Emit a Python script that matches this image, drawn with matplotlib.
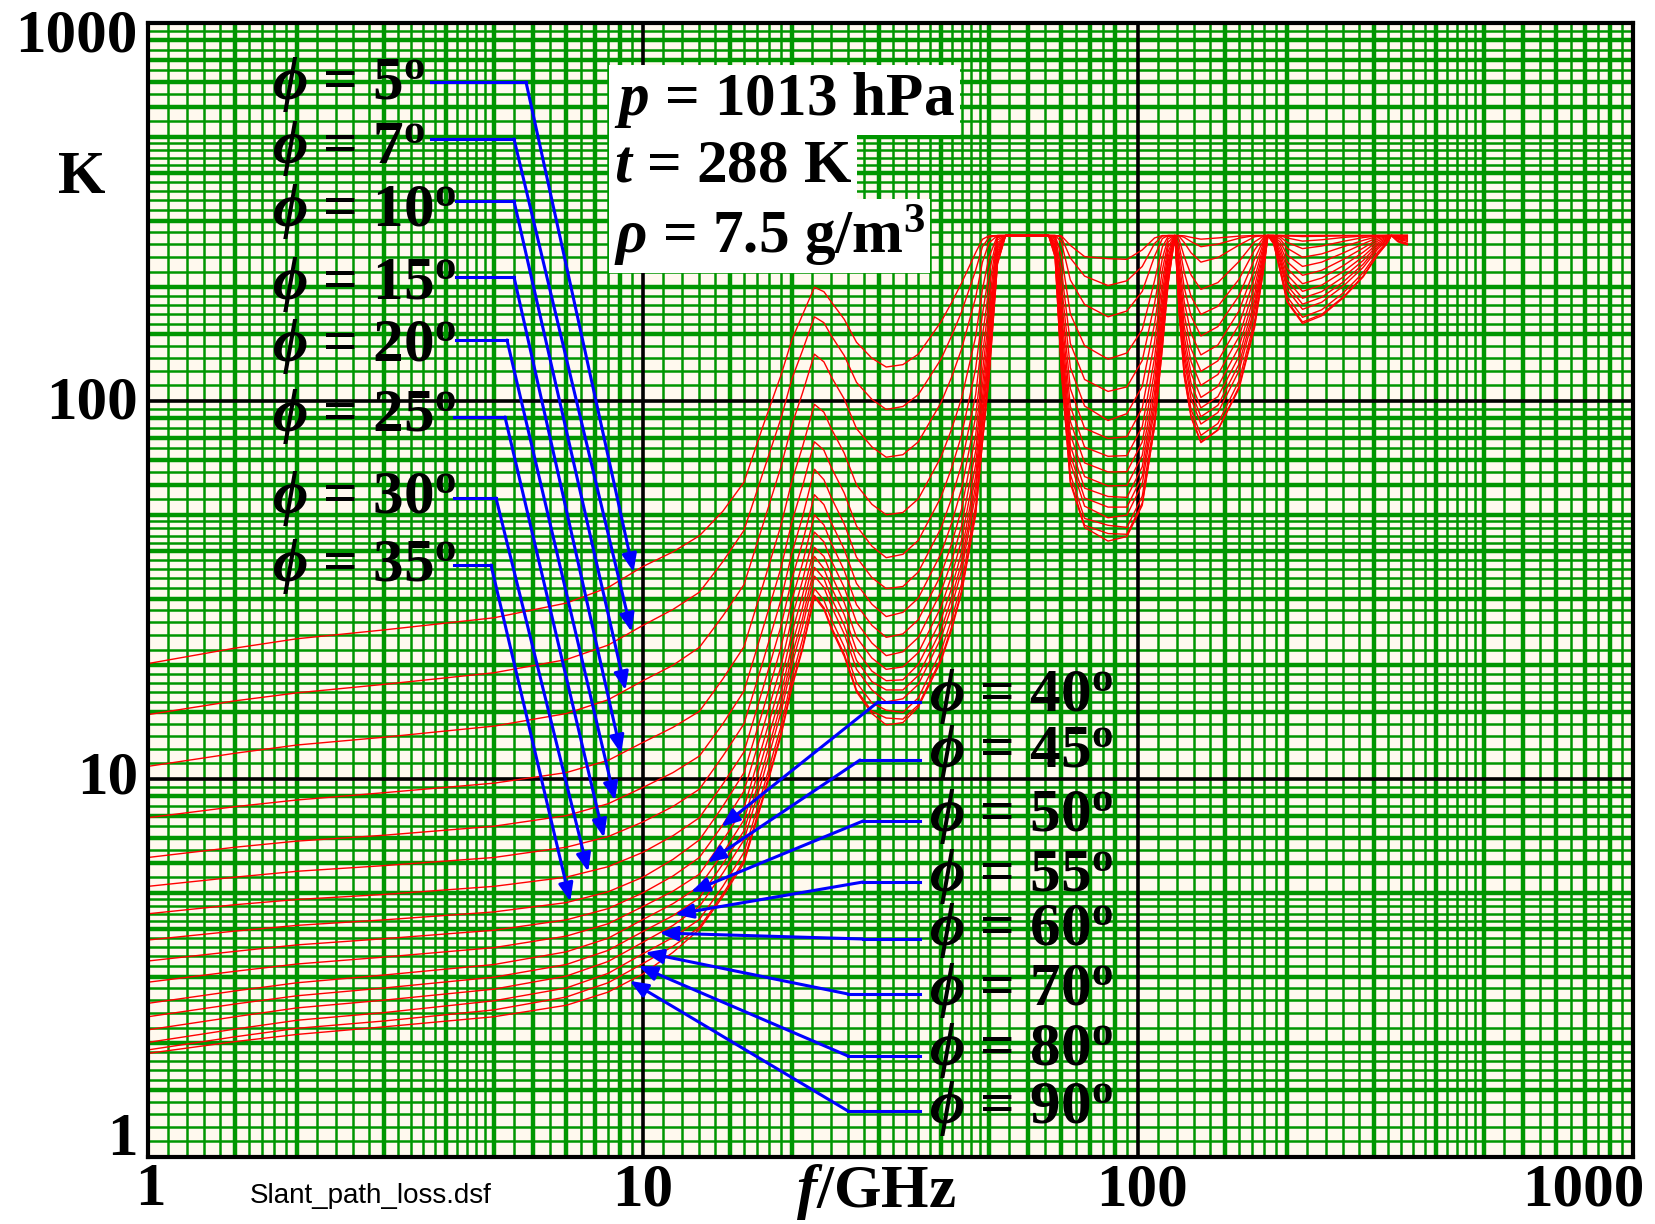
import numpy as np
import matplotlib
matplotlib.use("Agg")
import matplotlib.pyplot as plt
from matplotlib import font_manager

plt.rcParams['mathtext.fontset'] = 'custom'
plt.rcParams['mathtext.rm'] = 'Liberation Serif:bold'
plt.rcParams['mathtext.it'] = 'Liberation Serif:italic:bold'
plt.rcParams['mathtext.bf'] = 'Liberation Serif:bold'
plt.rcParams['mathtext.fallback'] = 'stix'

# ---------------- data ----------------
freq_ghz = [1, 1.5, 2, 3, 5, 7, 8.5, 10, 11.5,
            13, 14.5, 16, 17.5, 19, 20, 21, 22.2, 23.2, 24, 25.5, 27, 29, 31, 33.5,
            36, 40, 42, 44, 47, 48.5, 50, 52, 54,
            60, 66, 68, 70, 73, 78, 87,
            95, 102, 108, 112, 115, 118.75,
            121, 124, 128, 134, 145, 160,
            172, 180, 183, 188, 194, 200,
            215, 235, 260, 285, 305, 318,
            325, 335, 350]

elevations = [5, 7, 10, 15, 20, 25, 30, 35, 40, 45, 50, 55, 60, 70, 80, 90]

T_05 = [20.2, 22.2, 23.5, 24.8, 26.7, 29.2, 32.1, 36.5, 39.9,
        44, 51.1, 61, 86.3, 117, 145.5, 169, 200, 194.6, 183, 164.5, 143, 129.8, 123, 124.8,
        133, 162, 181.9, 205, 247, 267.8, 273.5, 274, 274,
        274, 274, 274, 273.6, 258, 241, 238,
        237, 251, 270, 274, 274, 274,
        274, 273.5, 271, 268, 270, 273,
        274, 274, 274, 274, 274, 274,
        274, 274, 274, 274, 274, 274,
        274, 274, 274]
T_07 = [14.8, 16.1, 16.9, 17.8, 19.1, 20.7, 22.6, 25.5, 28.1,
        31.2, 37.6, 45.5, 65.0, 90, 114.6, 136, 167, 161.1, 149, 131.9, 112, 101.0, 95, 96.7,
        104, 129, 148.4, 172, 222, 255.8, 271, 274, 274,
        274, 274, 274, 271.6, 239, 214, 202,
        208, 227, 261, 273, 274, 274,
        274, 271, 264, 256, 260, 269.5,
        274, 274, 274, 274, 274, 274,
        273.8, 274, 274, 274, 274, 274,
        274, 274, 274]
T_10 = [10.8, 11.7, 12.3, 12.9, 13.8, 14.9, 16.2, 18.2, 20.0,
        22.3, 27.0, 32.7, 47.4, 67, 86.6, 105, 133, 126.9, 116, 101.2, 84.5, 75.6, 71, 72.1,
        78, 99, 115.5, 137, 188, 233.1, 262, 274, 274,
        274, 274, 274, 264, 209, 180, 167,
        173, 195, 241.5, 269, 274, 274,
        273, 262.5, 246.6, 233, 239.6, 258.6,
        272, 274, 274, 274, 274, 273.5,
        272.3, 272.8, 273.6, 274, 274, 274,
        274, 274, 274]
T_15 = [7.9, 8.45, 8.8, 9.2, 9.75, 10.4, 11.2, 12.5, 13.7,
        15.1, 18.4, 22.4, 32.8, 46.9, 61.6, 75.6, 98, 93.4, 84.6, 72.8, 60, 53.3, 50, 50.7,
        55.1, 71.1, 84.1, 101.5, 148, 197.4, 240, 273.7, 274,
        274, 274, 274, 244, 170, 140, 129,
        134, 154.5, 208, 255.6, 272.5, 274,
        268, 241, 215.5, 197.4, 205.7, 234,
        263.7, 274, 274, 274, 273.4, 270,
        264.8, 267, 270.8, 273.2, 274, 274,
        274, 274, 274]
T_20 = [6.2, 6.6, 6.85, 7.1, 7.5, 8.0, 8.6, 9.5, 10.4,
        11.5, 14.0, 17.1, 25.2, 36.2, 48.0, 59.4, 78, 74.1, 66.8, 57.1, 46.7, 41.3, 38.5, 39.3,
        42.8, 55.7, 66.4, 81, 122, 169.5, 218, 272.6, 274,
        274, 274, 273.4, 223, 142, 114, 106,
        109, 128, 181, 238.5, 268.7, 274,
        259, 219, 189, 169.5, 178, 210,
        251, 272.6, 274, 274, 271.4, 263,
        253, 257, 264.5, 270.6, 273.5, 274,
        274, 274, 274]
T_25 = [5.2, 5.5, 5.7, 5.9, 6.2, 6.6, 7.04, 7.7, 8.46,
        9.4, 11.5, 14.0, 20.6, 29.8, 39.7, 49.3, 66, 61.9, 55.6, 47.3, 38.6, 34.1, 31.9, 32.3,
        35.3, 46.1, 55.2, 67.8, 104, 148.6, 198.5, 270.3, 274,
        274, 274, 272, 204, 122.5, 97, 88.8,
        92.6, 109.4, 160, 222, 263, 274,
        248.4, 199.6, 167.8, 148.6, 157.3, 190,
        237.4, 270, 274, 274, 267.8, 253.8,
        240, 245, 256, 266, 272.5, 274,
        274, 274, 274]
T_30 = [4.4, 4.65, 4.8, 4.95, 5.2, 5.5, 5.86, 6.4, 7.08,
        7.9, 9.7, 11.8, 17.5, 25.4, 33.9, 42.2, 56.5, 53.2, 47.7, 40.5, 32.9, 29.0, 26.9, 27.6,
        30.1, 39.5, 47.4, 58.5, 91, 132.4, 181.7, 266.7, 274,
        274, 274, 270, 187.6, 107.8, 84.7, 79.6,
        80.5, 95.8, 143.3, 206.4, 255.6, 274,
        237, 182.8, 151, 132.4, 140.6, 173.2,
        224, 266.5, 274, 273.3, 262.8, 243.6,
        227, 233, 246.5, 260.4, 270.6, 273.3,
        274, 274, 273.2]
T_35 = [3.75, 3.96, 4.1, 4.24, 4.45, 4.71, 5.03, 5.5, 6.13,
        6.9, 8.47, 10.4, 15.3, 22.3, 29.8, 37.2, 50, 47.0, 42.1, 35.6, 28.9, 25.5, 23.7, 24.2,
        26.4, 34.7, 41.8, 51.7, 81.2, 119.8, 167.8, 262, 274,
        274, 274, 267, 173.8, 96.8, 75.5, 71.4,
        71.7, 85.6, 130, 193, 248, 274,
        226, 169, 137.5, 119.8, 127.7, 159.4,
        211.7, 262, 274, 272.5, 257.2, 233.7,
        215, 221.7, 237, 253.9, 268.1, 272.5,
        274, 273.1, 272.2]
T_40 = [3.3, 3.5, 3.64, 3.78, 3.98, 4.24, 4.54, 5.0, 5.54,
        6.2, 7.57, 9.3, 13.7, 19.9, 26.7, 33.5, 45, 42.4, 37.9, 32.1, 26.0, 22.9, 21.2, 21.7,
        23.7, 31.3, 37.6, 46.7, 73.8, 110, 156.5, 257.8, 274,
        274, 274, 263.6, 162.4, 88.3, 68.6, 64.9,
        65, 77.9, 120, 181.8, 240.4, 274,
        216, 157.5, 127, 110, 117.5, 148,
        201, 257.3, 274, 271.4, 251.3, 224.5,
        204.3, 211.5, 228.2, 247.5, 265.1, 271.4,
        274, 272.4, 271]
T_45 = [2.9, 3.1, 3.24, 3.38, 3.58, 3.84, 4.14, 4.6, 5.05,
        5.6, 6.88, 8.4, 12.5, 18.2, 24.4, 30.6, 41, 38.8, 34.7, 29.3, 23.7, 20.9, 19.5, 19.8,
        21.6, 28.5, 34.4, 42.8, 68, 102.2, 147, 253, 274,
        274, 274, 260, 152.8, 81.6, 63.1, 59.6,
        59.8, 71.8, 111.6, 172.2, 233.4, 274,
        207.4, 148, 118.4, 102.2, 109.3, 139,
        191.6, 252.5, 274, 270.1, 245.5, 216,
        195, 202.5, 220, 241, 261.8, 270.1,
        274, 271.4, 269.3]
T_50 = [2.55, 2.75, 2.89, 3.03, 3.23, 3.49, 3.79, 4.25, 4.68,
        5.2, 6.36, 7.8, 11.6, 16.8, 22.6, 28.4, 38.8, 36.0, 32.2, 27.2, 21.9, 19.3, 18.2, 18.3,
        20.1, 26.4, 31.9, 39.7, 63.4, 95.9, 139.3, 248.5, 274,
        274, 274, 256.3, 145, 76.2, 58.8, 55.9,
        55.6, 67, 105, 164, 227, 274,
        199.7, 140.3, 111.4, 95.9, 102.7, 131.3,
        183.6, 247.8, 274, 268.6, 240, 208.8,
        187, 194.7, 213, 235.3, 258.5, 268.6,
        274, 270.3, 267.8]
T_55 = [2.35, 2.54, 2.67, 2.8, 2.99, 3.23, 3.52, 3.95, 4.35,
        4.85, 5.96, 7.3, 10.8, 15.8, 21.2, 26.6, 36.3, 33.9, 30.2, 25.5, 20.6, 18.1, 17.2, 17.2,
        18.8, 24.8, 30.0, 37.3, 59.8, 90.9, 133, 244, 274,
        274, 274, 253, 138.5, 72, 55.4, 52.4,
        52.4, 63.3, 99.6, 157.4, 221.3, 274,
        193.2, 134, 105.9, 90.9, 97.4, 125.2,
        177, 243.4, 274, 266.9, 235.2, 202.5,
        180.4, 188.1, 206.7, 230.1, 255.3, 266.9,
        274, 269.1, 266.1]
T_60 = [2.17, 2.35, 2.48, 2.6, 2.78, 3.01, 3.29, 3.7, 4.1,
        4.6, 5.64, 6.9, 10.2, 15.0, 20.1, 25.3, 34.4, 32.1, 28.7, 24.2, 19.5, 17.2, 16.0, 16.3,
        17.8, 23.6, 28.5, 35.5, 56.9, 86.9, 127.8, 240.2, 274,
        274, 274, 250, 133.3, 68.7, 52.7, 49.1,
        49.9, 60.3, 95.3, 151.9, 216.4, 274,
        187.7, 128.8, 101.4, 86.9, 93.2, 120.2,
        171.4, 239.7, 274, 265.1, 230.8, 197.1,
        174.8, 182.5, 201.4, 225.6, 252.4, 265.1,
        274, 268.1, 264.3]
T_70 = [2.01, 2.18, 2.3, 2.41, 2.59, 2.8, 3.06, 3.45, 3.81,
        4.25, 5.2, 6.4, 9.45, 13.8, 18.6, 23.4, 31.9, 29.7, 26.5, 22.4, 18.0, 15.9, 15.2, 15.0,
        16.4, 21.8, 26.4, 32.8, 52.9, 81.1, 120.4, 234.4, 274,
        274, 274, 244.7, 125.7, 64, 48.9, 46.9,
        46.3, 56, 89.2, 143.9, 208.8, 274,
        179.5, 121.4, 95, 81.1, 87.2, 113.1,
        163.1, 233.6, 274, 262.6, 224, 188.9,
        166.5, 174.3, 193.4, 218.5, 247.6, 262.6,
        274, 265.8, 261.5]
T_80 = [1.92, 2.08, 2.19, 2.29, 2.45, 2.65, 2.89, 3.25, 3.61,
        4.05, 4.96, 6.1, 9.04, 13.2, 17.8, 22.3, 30.6, 28.4, 25.3, 21.4, 17.2, 15.1, 14.5, 14.4,
        15.7, 20.8, 25.2, 31.4, 50.7, 78, 116.2, 231, 274,
        274, 274, 241.4, 121.5, 61.4, 46.9, 44.6,
        44.4, 53.7, 85.8, 139.4, 204.4, 274,
        174.7, 117.2, 91.4, 78, 83.9, 109.1,
        158.4, 230.2, 274, 261, 220, 184.3,
        161.8, 169.5, 188.7, 214.2, 244.6, 261,
        274, 264.3, 259.7]
T_90 = [1.88, 2.02, 2.11, 2.21, 2.35, 2.52, 2.73, 3.05, 3.48,
        4.0, 4.89, 6.0, 8.9, 13.0, 17.5, 22.0, 30.3, 28.1, 25.0, 21.1, 17.0, 14.9, 13.9, 14.1,
        15.5, 20.5, 24.8, 31.0, 50, 77.6, 115, 230, 274,
        274, 274, 240, 120, 60.6, 46.3, 42.6,
        43.8, 53, 85.6, 138, 203, 274,
        173.2, 116, 90.4, 77.6, 83.7, 107.8,
        156.4, 229.6, 274, 260.4, 218.7, 182.8,
        160.3, 168, 187.5, 212.9, 243.6, 260.4,
        274, 263.9, 258.9]

curves = [T_05, T_07, T_10, T_15, T_20, T_25, T_30, T_35,
          T_40, T_45, T_50, T_55, T_60, T_70, T_80, T_90]
for c in curves:
    assert len(c) == len(freq_ghz), (len(c), len(freq_ghz))

x_tick_labels = ['1', '10', '100', '1000']
y_tick_labels = ['1000', '100', '10', '1']

# frequency (GHz) where each leader arrow touches its curve
left_group = [5, 7, 10, 15, 20, 25, 30, 35]
left_tip_freq = [9.57, 9.48, 9.22, 9.03, 8.78, 8.34, 7.75, 7.13]
right_group = [40, 45, 50, 55, 60, 70, 80, 90]
right_tip_freq = [14.4, 13.5, 12.5, 11.6, 10.8, 10.1, 9.8, 9.4]

# ---------------- layout helpers (pixel -> figure fraction) -------------
W, H = 1655, 1224
def fx(x):
    return x / W
def fy(y):
    return 1 - y / H

SERIF = 'Liberation Serif'
GREEN = '#009600'
BLUE = '#0000FF'

installed = {f.name for f in font_manager.fontManager.ttflist}
if 'Liberation Sans Narrow' in installed:
    NOTE_FONT, NOTE_SIZE = 'Liberation Sans Narrow', 25
else:
    NOTE_FONT, NOTE_SIZE = 'Liberation Sans', 20

fig = plt.figure(figsize=(W / 100, H / 100), dpi=100)
fig.patch.set_facecolor('white')
ax = fig.add_axes([fx(148), fy(1157), (1633 - 148) / W, (1157 - 23) / H])
ax.set_xscale('log')
ax.set_yscale('log')
ax.set_xlim(1, 1000)
ax.set_ylim(1, 1000)
ax.set_facecolor('#FFF9EE')
ax.set_xticks([])
ax.set_xticks([], minor=True)
ax.set_yticks([])
ax.set_yticks([], minor=True)
for sp in ax.spines.values():
    sp.set_linewidth(3)
    sp.set_color('black')
    sp.set_zorder(6)

# ---------------- log-paper grid ----------------
fine = [1.1, 1.2, 1.3, 1.4, 1.6, 1.7, 1.8, 1.9,
        2.2, 2.4, 2.6, 2.8, 3.2, 3.4, 3.6, 3.8, 4.2, 4.4, 4.6, 4.8,
        5.5, 6.5, 7.5, 8.5, 9.5]
bold = [1.5, 2, 3, 4, 5, 6, 7, 8, 9]
for d in [1, 10, 100]:
    for v in fine:
        ax.axvline(d * v, color=GREEN, lw=1.8, zorder=1)
        ax.axhline(d * v, color=GREEN, lw=1.8, zorder=1)
    for v in bold:
        ax.axvline(d * v, color=GREEN, lw=3.2, zorder=1.2)
        ax.axhline(d * v, color=GREEN, lw=3.2, zorder=1.2)
for d in [10, 100]:
    ax.axvline(d, color='black', lw=2.6, zorder=1.5)
    ax.axhline(d, color='black', lw=2.6, zorder=1.5)

# ---------------- curves ----------------
for T in curves:
    ax.plot(freq_ghz, T, color='red', lw=1.0, zorder=3)

def curve_at(phi, f):
    T = curves[elevations.index(phi)]
    return 10 ** np.interp(np.log10(f), np.log10(freq_ghz), np.log10(T))

# ---------------- labels and leaders ----------------
def phi_label(phi):
    return r'$\phi$ = ' + str(phi) + r'$^{\mathrm{o}}$'

left_text_y = [84, 149, 211, 284, 347, 417, 498, 567]
left_line_y = [82, 139, 201, 277, 340, 417, 498, 565]
left_line_x0 = [431, 431, 456, 456, 456, 454, 454, 454]
left_kink_x = [526, 514, 514, 514, 507, 505, 496, 491]

right_text_y = [697, 752, 816, 876, 931, 990, 1050, 1108]
right_line_y = [702, 760, 821, 882, 939, 994, 1056, 1111]
right_kink_x = [878, 860, 863, 863, 863, 848, 848, 848]

arrow_props = dict(arrowstyle='-|>,head_length=0.55,head_width=0.22',
                   color=BLUE, lw=2.2, mutation_scale=20,
                   shrinkA=0, shrinkB=0)

for i, phi in enumerate(left_group):
    fig.text(fx(272), fy(left_text_y[i]), phi_label(phi), fontsize=44,
             family=SERIF, weight='bold', va='center', ha='left', zorder=7)
    ax.plot([fx(left_line_x0[i]), fx(left_kink_x[i])],
            [fy(left_line_y[i]), fy(left_line_y[i])],
            transform=fig.transFigure, color=BLUE, lw=2.2, zorder=4)
    f = left_tip_freq[i]
    ax.annotate('', xy=(f, curve_at(phi, f)), xycoords='data',
                xytext=(fx(left_kink_x[i]), fy(left_line_y[i])),
                textcoords='figure fraction', arrowprops=arrow_props, zorder=4)

for i, phi in enumerate(right_group):
    fig.text(fx(929), fy(right_text_y[i]), phi_label(phi), fontsize=44,
             family=SERIF, weight='bold', va='center', ha='left', zorder=7)
    ax.plot([fx(920), fx(right_kink_x[i])],
            [fy(right_line_y[i]), fy(right_line_y[i])],
            transform=fig.transFigure, color=BLUE, lw=2.2, zorder=4)
    f = right_tip_freq[i]
    ax.annotate('', xy=(f, curve_at(phi, f)), xycoords='data',
                xytext=(fx(right_kink_x[i]), fy(right_line_y[i])),
                textcoords='figure fraction', arrowprops=arrow_props, zorder=4)

# condition boxes
box = dict(boxstyle='square,pad=0.08', fc='white', ec='none')
fig.text(fx(614), fy(100), r'$p$ = 1013 hPa', fontsize=44, family=SERIF,
         weight='bold', va='center', ha='left', bbox=box, zorder=7)
fig.text(fx(614), fy(167), r'$t$ = 288 K', fontsize=44, family=SERIF,
         weight='bold', va='center', ha='left', bbox=box, zorder=7)
fig.text(fx(614), fy(236), r'$\rho$ = 7.5 g/m$^{3}$', fontsize=44, family=SERIF,
         weight='bold', va='center', ha='left', bbox=box, zorder=7)

# tick labels
y_label_pix = [37, 404, 779, 1140]
for lab, yp in zip(y_tick_labels, y_label_pix):
    fig.text(fx(138), fy(yp), lab, fontsize=44, family=SERIF, weight='bold',
             ha='right', va='center')
x_label_pix = [150, 643, 1142, 1583]
for lab, xp in zip(x_tick_labels, x_label_pix):
    fig.text(fx(xp), fy(1190), lab, fontsize=44, family=SERIF, weight='bold',
             ha='center', va='center')

fig.text(fx(82), fy(178), 'K', fontsize=44, family=SERIF, weight='bold',
         ha='center', va='center')
fig.text(fx(876), fy(1192), r'$f$/GHz', fontsize=44, family=SERIF,
         weight='bold', ha='center', va='center')
fig.text(fx(250), fy(1196), 'Slant_path_loss.dsf', fontsize=NOTE_SIZE,
         family=NOTE_FONT, ha='left', va='center')

fig.savefig('out.png', dpi=100, facecolor='white')
